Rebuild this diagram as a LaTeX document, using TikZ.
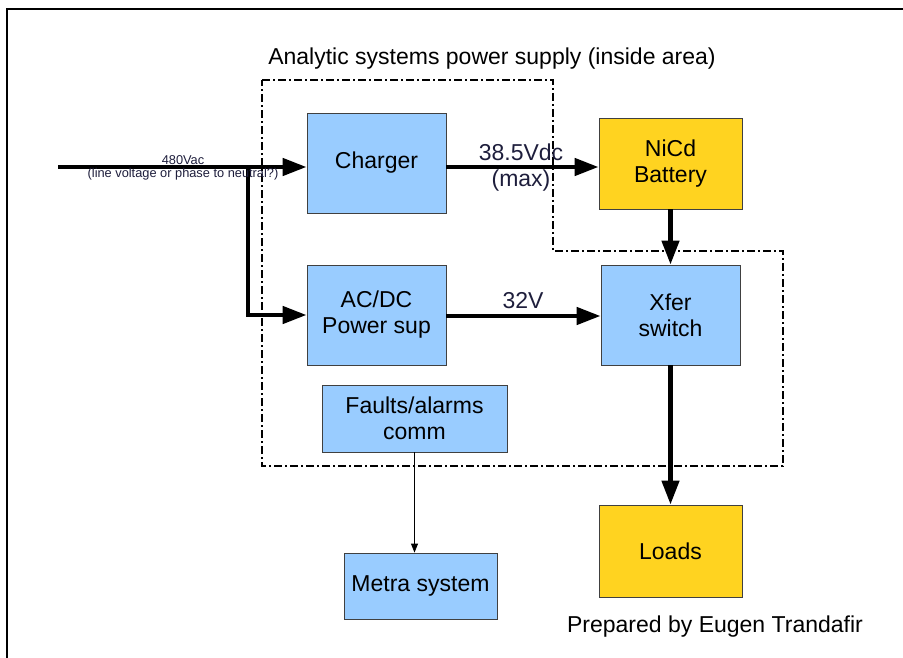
\documentclass[tikz,border=0pt]{standalone}
\usepackage{fontspec}
\setmainfont{Liberation Sans}
\usetikzlibrary{arrows.meta}
\definecolor{boxblue}{HTML}{99CCFF}
\definecolor{boxyellow}{HTML}{FFD320}
\definecolor{labeltext}{HTML}{1E1E3C}

\begin{document}
\begin{tikzpicture}[x=1pt,y=-1pt]
	\tikzstyle{Box} = [draw=black!75,line width=0.8pt,align=center,inner sep=0pt,font=\fontsize{23}{26}\selectfont]
	\tikzstyle{Blue} = [Box,fill=boxblue]
	\tikzstyle{Yellow} = [Box,fill=boxyellow]
	\tikzstyle{Power} = [line width=4.5pt,-{Triangle[length=24pt,width=17pt]}]
	\tikzstyle{Area} = [line width=1.5pt,dash pattern=on 8pt off 3pt on 2pt off 3pt]
	\useasboundingbox (0,0) rectangle (903,658);
	\draw[line width=2pt] (7,658)--(7,9)--(903,9);
	\draw[Area] (262,80)--(553,80)--(553,251)--(783,251)--(783,466)--(262,466)--cycle;
	\node[font=\fontsize{23}{26}\selectfont] (title) at (492,59) {Analytic systems power supply (inside area)};
	\node[Blue,minimum width=139pt,minimum height=100pt] (charger) at (376.5,163) {Charger};
	\node[Yellow,minimum width=143pt,minimum height=91pt] (battery) at (670.5,163.5) {NiCd\\Battery};
	\node[Blue,minimum width=139pt,minimum height=100pt] (acdc) at (376.5,315) {AC/DC\\Power sup};
	\node[Blue,minimum width=139pt,minimum height=100pt] (xfer) at (670.5,315) {Xfer\\switch};
	\node[Blue,minimum width=185pt,minimum height=67pt] (faults) at (414.5,418.5) {Faults/alarms\\comm};
	\node[Blue,minimum width=153pt,minimum height=66pt] (metra) at (420.5,586) {Metra system};
	\node[Yellow,minimum width=143pt,minimum height=92pt] (loads) at (670.5,551) {Loads};
	\node[font=\fontsize{23}{26}\selectfont] (prepared) at (715,627) {Prepared by Eugen Trandafir};
	\coordinate (in) at (58,167);
	\coordinate (split) at (248,167);
	\draw[Power] (in)--(in -| charger.west);
	\draw[Power] (split)|-(acdc.west);
	\draw[Power] (charger.east |- in)--(battery.west |- in);
	\draw[Power] (acdc.east |- 0,316)--(xfer.west |- 0,316);
	\draw[Power] (battery.south)--(xfer.north);
	\draw[Power] (xfer.south)--(loads.north);
	\draw[line width=0.8pt,-{Triangle[length=9pt,width=7pt]}] (faults.south)--(faults.south |- metra.north);
	\node[align=center,font=\fontsize{12.8}{13}\selectfont,text=labeltext] (ac) at (183,168) {480Vac\\(line voltage or phase to neutral?)};
	\node[align=center,font=\fontsize{23}{26}\selectfont,text=labeltext] (dc) at (521,168) {38.5Vdc\\(max)};
	\node[font=\fontsize{23}{26}\selectfont,text=labeltext] (v32) at (523,301) {32V};
\end{tikzpicture}
\end{document}
